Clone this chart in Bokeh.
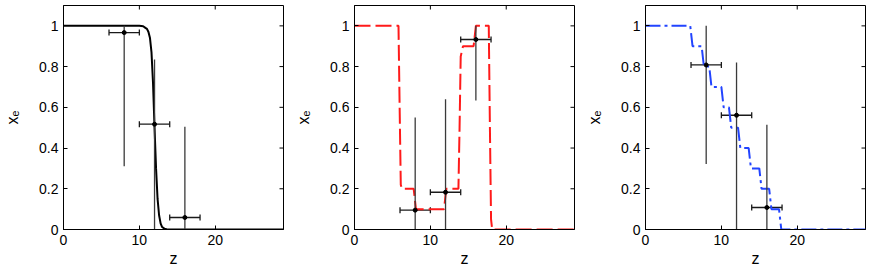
import math
from bokeh.plotting import figure
from bokeh.layouts import row
from bokeh.models import (FixedTicker, Whisker, TeeHead,
                          ColumnDataSource, Range1d)
from bokeh.embed import file_html
from bokeh.resources import INLINE

# ---------------- data ----------------
x_range_end = 29
y_range_end = 1.1
x_ticks = [0, 10, 20]
x_tick_labels = ["0", "10", "20"]
y_ticks = [0, 0.2, 0.4, 0.6, 0.8, 1]
y_tick_labels = ["0", "0.2", "0.4", "0.6", "0.8", "1"]

# panel 1: smooth (black solid) history
curve1_z = [0, 10.0, 10.5, 10.8, 11.0, 11.2, 11.4, 11.6, 11.8, 12.0, 12.2,
            12.4, 12.6, 12.8, 13.0, 13.3, 13.6, 14.0, 29]
curve1_x = [1, 1, 0.998, 0.99, 0.985, 0.97, 0.94, 0.87, 0.72, 0.5, 0.3,
            0.15, 0.07, 0.03, 0.012, 0.004, 0.001, 0, 0]

# panel 2: red dashed history
curve2_z = [0, 5.8, 5.95, 6.1, 6.25, 7.8, 7.95, 8.1, 11.8, 11.95, 12.1, 13.7,
            13.85, 14.0, 14.3, 15.7, 15.85, 16.0, 17.7, 17.85, 18.0, 18.15, 29]
curve2_x = [1, 1, 0.6, 0.22, 0.2, 0.2, 0.15, 0.1, 0.1, 0.15, 0.2, 0.2,
            0.5, 0.85, 0.9, 0.9, 0.95, 1.0, 1.0, 0.5, 0.05, 0, 0]

# panel 3: blue dash-dot staircase history
curve3_z = [0, 5.9, 6.2, 7.4, 7.7, 8.4, 8.7, 10.0, 10.3, 11.0, 11.3, 12.2,
            12.5, 13.6, 13.9, 15.0, 15.3, 16.3, 16.6, 17.6, 17.9, 29]
curve3_x = [1, 1, 0.9, 0.9, 0.8, 0.8, 0.7, 0.7, 0.6, 0.6, 0.5, 0.5,
            0.4, 0.4, 0.3, 0.3, 0.2, 0.2, 0.1, 0.1, 0, 0]

# binned estimates with error bars
pts_z = [8, 12, 16]
pts_z_lo = [6, 10, 14]
pts_z_hi = [10, 14, 18]

pts1_y = [0.967, 0.517, 0.059]
pts1_lo = [0.31, 0.0, 0.0]
pts1_hi = [1.0, 0.835, 0.504]

pts2_y = [0.095, 0.183, 0.933]
pts2_lo = [0.0, 0.0, 0.633]
pts2_hi = [0.55, 0.64, 1.0]

pts3_y = [0.808, 0.561, 0.108]
pts3_lo = [0.322, 0.0, 0.0]
pts3_hi = [1.0, 0.82, 0.515]

FONT = "Liberation Sans"
H = 266
LEFT = 63


def style_axis(ax, ticks, labels):
    ax.ticker = FixedTicker(ticks=ticks)
    ax.major_label_overrides = {t: l for t, l in zip(ticks, labels)}
    ax.major_tick_in = 4
    ax.major_tick_out = 0
    ax.minor_tick_line_color = None
    ax.axis_line_color = "black"
    ax.major_tick_line_color = "black"
    ax.major_label_text_font = FONT
    ax.major_label_text_color = "black"
    ax.major_label_text_font_size = "14px"
    ax.major_label_standoff = 5
    ax.axis_label_text_font = FONT
    ax.axis_label_text_font_size = "16px"
    ax.axis_label_text_font_style = "normal"
    ax.axis_label_text_color = "black"


def make_panel(cz, cx, color, dash, py, plo, phi, width, border_right):
    p = figure(width=width, height=H, x_range=Range1d(0, x_range_end),
               y_range=Range1d(0, y_range_end), output_backend="svg",
               toolbar_location=None, min_border_left=LEFT,
               min_border_right=border_right, min_border_top=1,
               min_border_bottom=41)
    p.xgrid.visible = False
    p.ygrid.visible = False
    p.outline_line_color = "black"
    p.outline_line_width = 1
    p.background_fill_color = "white"
    p.border_fill_color = "white"

    p.line(cz, cx, line_color=color, line_width=2, line_dash=dash)

    src = ColumnDataSource(dict(z=pts_z, zlo=pts_z_lo, zhi=pts_z_hi,
                                y=py, lo=plo, hi=phi))
    p.segment(x0="z", y0="lo", x1="z", y1="hi", source=src,
              line_color="#3a3a3a", line_width=1.3)
    p.add_layout(Whisker(source=src, base="y", lower="zlo", upper="zhi",
                         dimension="width", line_color="#1a1a1a",
                         line_width=1.3,
                         upper_head=TeeHead(size=6, line_color="#1a1a1a",
                                            line_width=1.3),
                         lower_head=TeeHead(size=6, line_color="#1a1a1a",
                                            line_width=1.3)))
    p.scatter("z", "y", source=src, size=4, color="black")

    # mirrored inward ticks on the top and right edges of the box
    p.scatter(x=x_ticks, y=[y_range_end] * len(x_ticks), marker="dash",
              angle=math.pi / 2, size=8, line_color="black", line_width=1)
    p.scatter(x=[x_range_end] * len(y_ticks), y=y_ticks, marker="dash",
              size=8, line_color="black", line_width=1)

    style_axis(p.xaxis[0], x_ticks, x_tick_labels)
    style_axis(p.yaxis[0], y_ticks, y_tick_labels)
    p.xaxis[0].axis_label = "z"
    p.yaxis[0].axis_label = "xₑ"
    p.xaxis[0].axis_label_standoff = 2
    p.yaxis[0].axis_label_standoff = 15
    return p


p1 = make_panel(curve1_z, curve1_x, "black", "solid",
                pts1_y, pts1_lo, pts1_hi, 291, 8)
p2 = make_panel(curve2_z, curve2_x, "#ff1a1a", "16 5",
                pts2_y, pts2_lo, pts2_hi, 291, 8)
p3 = make_panel(curve3_z, curve3_x, "#2244ff", "15 4 3 4",
                pts3_y, pts3_lo, pts3_hi, 287, 4)

layout = row(p1, p2, p3, styles={"position": "absolute", "top": "4px",
                                  "left": "0px"})

open("out.html", "w").write(file_html(layout, INLINE))
